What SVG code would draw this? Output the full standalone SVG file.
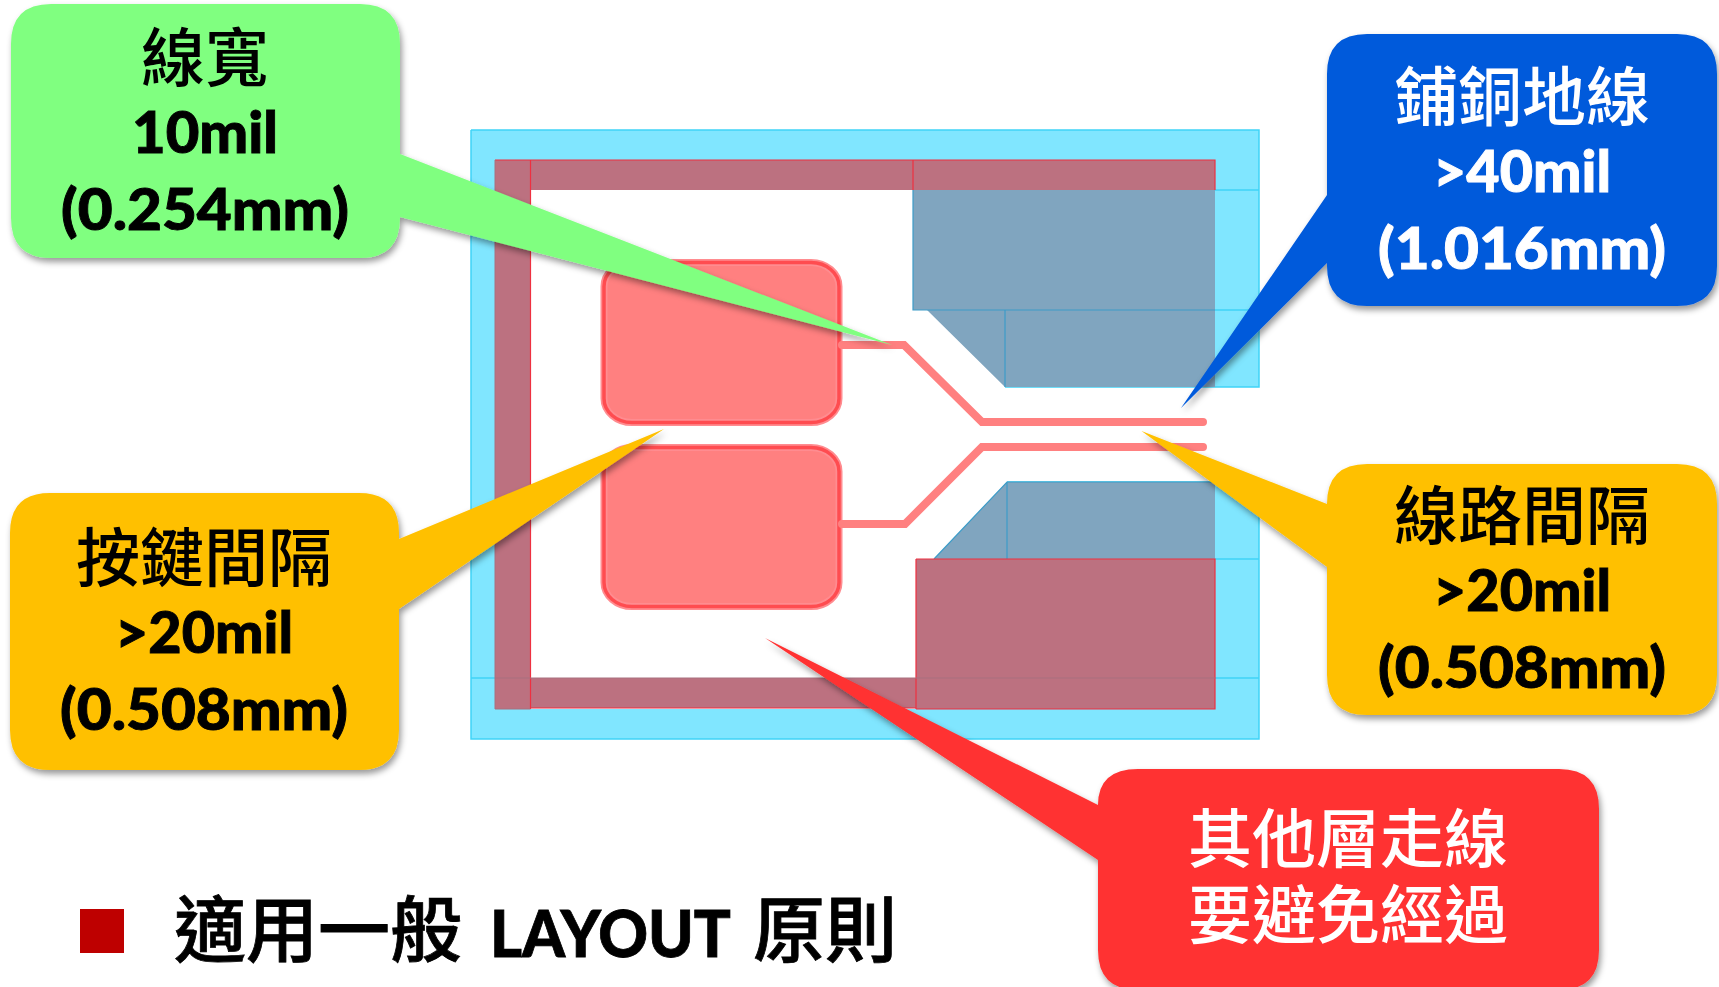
<svg xmlns="http://www.w3.org/2000/svg" width="1719" height="987" viewBox="0 0 1719 987">
<style>
text{font-family:"Lato","Noto Sans CJK TC",sans-serif;text-anchor:middle}
.n{font-size:57px;font-weight:900;stroke-width:0.9}
.c{font-size:64px;font-weight:500}
.k{fill:#000;stroke:#000}
.w{fill:#fff;stroke:#fff}
.c.k,.c.w{stroke:none}
.cy{fill:#80E6FF}
.cl{stroke:#3FD4F7;stroke-width:1.5;fill:none}
.br{fill:#BC7180}
.ed{fill:none;stroke:#EE3040;stroke-width:1.2}
.em{fill:none;stroke:#A8707F;stroke-width:1}
.gb{fill:#80A5BF}
.gl{stroke:#3C9CC8;stroke-width:1.2;fill:none}
.pad{fill:#FF8080;stroke:#FF8C90;stroke-width:7}
.pin{fill:none;stroke:#FF4C50;stroke-width:3.500}
.tr{fill:none;stroke:#FF8080;stroke-width:8;stroke-linecap:round;stroke-linejoin:miter}
</style>
<defs>
<filter id="sh" x="-10%" y="-10%" width="120%" height="125%"><feDropShadow dx="2" dy="4" stdDeviation="3" flood-color="#000" flood-opacity="0.4"/></filter>
</defs>
<rect width="1719" height="987" fill="#fff"/>
<g id="board">
<path class="cy" d="M471 130H1259V387H1215V190H495V709H1215V482H1259V739H471Z"/>
<path class="cl" d="M471 130H1259V387H1005M471 130V739H1259V482H1007"/>
<path class="cl" d="M1215 190H1259M1215 310H1259M1215 559H1259M471 678H495M1215 678H1259"/>
<path class="gb" d="M913 190H1215V387H1005L927 310H913Z"/>
<path class="gl" d="M913 190V310H1215M1005 310V387"/>
<path class="gb" d="M1007 482H1215V559H934Z"/>
<path class="gl" d="M934 559L1007 482H1215M1007 482V559"/>
<path class="br" d="M495 160H1215V190H530.500V678H916V559H1215V709H916V708H530.500V709H495Z"/>
<path class="ed" d="M495 160H1215V190M530.500 160V709M530.500 708H916M913 160V190M916 559V709M916 559H1215V709H916"/>
<path class="em" d="M495 160V709H530.500M495 678H916M916 678H1215"/>
</g>
<g id="pad-1"><rect class="pad" x="604" y="262.500" width="235" height="160" rx="28" ry="24"/><rect class="pin" x="604" y="262.500" width="235" height="160" rx="28" ry="24"/></g>
<g id="pad-2"><rect class="pad" x="604" y="447.500" width="235" height="159" rx="28" ry="24"/><rect class="pin" x="604" y="447.500" width="235" height="159" rx="28" ry="24"/></g>
<g id="connectors">
<path class="tr" d="M842 345H904L982 422H1203"/>
<path class="tr" d="M842 524H905L982 447H1203"/>
</g>
<g id="callout-line-width" filter="url(#sh)">
<path fill="#80FF80" d="M51 4H360Q400 4 400 44V154L892 345L400 217V218Q400 258 360 258H51Q11 258 11 218V44Q11 4 51 4Z"/>
<text class="c k" x="205" y="81">線寬</text>
<text class="n k" x="205" y="153" textLength="146" lengthAdjust="spacingAndGlyphs">10mil</text>
<text class="n k" x="205" y="230" textLength="288" lengthAdjust="spacingAndGlyphs">(0.254mm)</text>
</g>
<g id="callout-key-gap" filter="url(#sh)">
<path fill="#FFC000" d="M50 493H359Q399 493 399 533V539L664 429L399 609V730Q399 770 359 770H50Q10 770 10 730V533Q10 493 50 493Z"/>
<text class="c k" x="204" y="581">按鍵間隔</text>
<text class="n k" x="204" y="653" textLength="178" lengthAdjust="spacingAndGlyphs">&gt;20mil</text>
<text class="n k" x="204" y="730" textLength="288" lengthAdjust="spacingAndGlyphs">(0.508mm)</text>
</g>
<g id="callout-ground" filter="url(#sh)">
<path fill="#055ADB" d="M1367 34H1677Q1717 34 1717 74V266Q1717 306 1677 306H1367Q1327 306 1327 266V263L1181 408L1327 195V74Q1327 34 1367 34Z"/>
<text class="c w" x="1522" y="120">鋪銅地線</text>
<text class="n w" x="1522" y="192" textLength="178" lengthAdjust="spacingAndGlyphs">&gt;40mil</text>
<text class="n w" x="1522" y="269" textLength="288" lengthAdjust="spacingAndGlyphs">(1.016mm)</text>
</g>
<g id="callout-trace-gap" filter="url(#sh)">
<path fill="#FFC000" d="M1367 464H1677Q1717 464 1717 504V675Q1717 715 1677 715H1367Q1327 715 1327 675V567L1141.500 431L1327 504Q1327 464 1367 464Z"/>
<text class="c k" x="1522" y="539">線路間隔</text>
<text class="n k" x="1522" y="611" textLength="178" lengthAdjust="spacingAndGlyphs">&gt;20mil</text>
<text class="n k" x="1522" y="688" textLength="288" lengthAdjust="spacingAndGlyphs">(0.508mm)</text>
</g>
<g id="callout-other-layer" filter="url(#sh)">
<path fill="#FF3131" d="M1138 769H1559Q1599 769 1599 809V950Q1599 990 1559 990H1138Q1098 990 1098 950V860L765 638L1098 805Q1098 769 1138 769Z"/>
<text class="c w" x="1348" y="862">其他層走線</text>
<text class="c w" x="1348" y="938">要避免經過</text>
</g>
<g id="title">
<rect x="80" y="909" width="44" height="44" fill="#BE0000"/>
<text font-size="72" font-weight="500" stroke="#000" stroke-width="0.8" style="text-anchor:start"><tspan x="174" y="956">適用一般</tspan><tspan x="490" y="957" font-size="65" font-weight="900" textLength="241" lengthAdjust="spacingAndGlyphs">LAYOUT</tspan><tspan x="753" y="956">原則</tspan></text>
</g>
</svg>
